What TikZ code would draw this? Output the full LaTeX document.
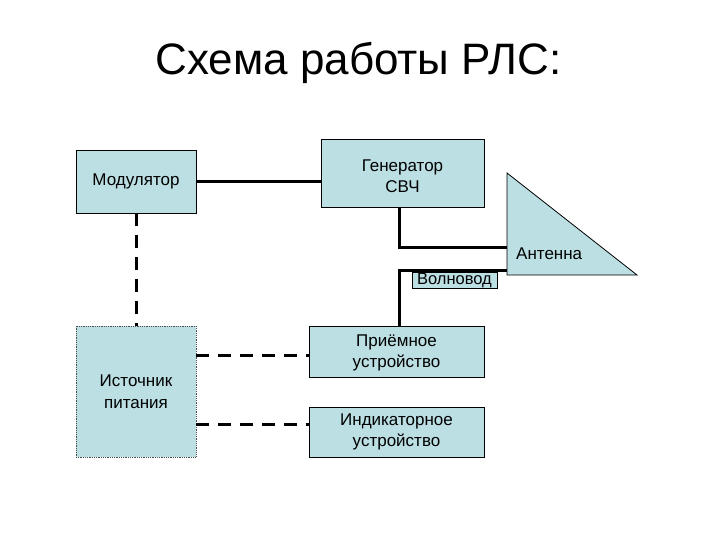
\documentclass[tikz,border=0pt]{standalone}
\usepackage{fontspec}
\setmainfont{Liberation Sans}
\definecolor{boxfill}{HTML}{BBDFE3}
\begin{document}
\begin{tikzpicture}[x=1pt,y=-1pt,
  blk/.style={draw=black,line width=0.8pt,fill=boxfill,inner sep=0pt,align=center,font=\fontsize{17}{21.5}\selectfont},
  solidline/.style={line width=3pt},
  dashline/.style={line width=3pt,dash pattern=on 13pt off 9pt}]
\useasboundingbox (0,0) rectangle (720,540);
\fill[white] (0,0) rectangle (720,540);
\node[font=\fontsize{44}{50}\selectfont,anchor=base] (title) at (358.5,75) {Схема работы РЛС:};
\node[blk,minimum width=120pt,minimum height=63pt] (mod) at (136,181.5) {Модулятор};
\node[blk,draw=black!70,densely dotted,line width=0.6pt,minimum width=120pt,minimum height=131pt] (pwr) at (136,391.5) {Источник\\питания};
\node[blk,minimum width=163pt,minimum height=68pt] (gen) at (402.5,173) {};
\node[font=\fontsize{17}{21.5}\selectfont,align=center,inner sep=0pt] (gent) at (402.5,176) {Генератор\\СВЧ};
\node[blk,minimum width=175pt,minimum height=51pt] (rcv) at (396.5,351.5) {};
\node[font=\fontsize{17}{21.5}\selectfont,align=center,inner sep=0pt] (rcvt) at (396.5,353) {Приёмное\\устройство};
\node[blk,minimum width=175pt,minimum height=50pt] (ind) at (396.5,432) {Индикаторное\\устройство};
\draw[line width=0.8pt,fill=boxfill] (507,173) coordinate (aT) -- (507,275) coordinate (aB) -- (637,275) coordinate (aR) -- cycle;
\node[font=\fontsize{17}{20}\selectfont,anchor=west,inner sep=0pt] (ant) at (516,254) {Антенна};
\coordinate (g1) at (399,247);
\coordinate (g2) at (399,270);
\draw[solidline] (mod.east) -- (mod.east -| gen.west);
\draw[solidline] (gen.south -| g1) -- (g1) -- (g1 -| aT);
\draw[solidline] (rcv.north -| g2) -- (g2) -- (g2 -| aT);
\node[draw=black,line width=0.5pt,fill=boxfill,inner sep=0pt,font=\fontsize{16.5}{18}\selectfont,minimum width=85pt,minimum height=16pt] (wg) at (454.5,280.5) {Волновод};
\draw[dashline] (mod.south) -- (pwr.north);
\draw[dashline] (pwr.east |- 0,355) -- (rcv.west |- 0,355);
\draw[dashline] (pwr.east |- 0,424) -- (ind.west |- 0,424);
\end{tikzpicture}
\end{document}
